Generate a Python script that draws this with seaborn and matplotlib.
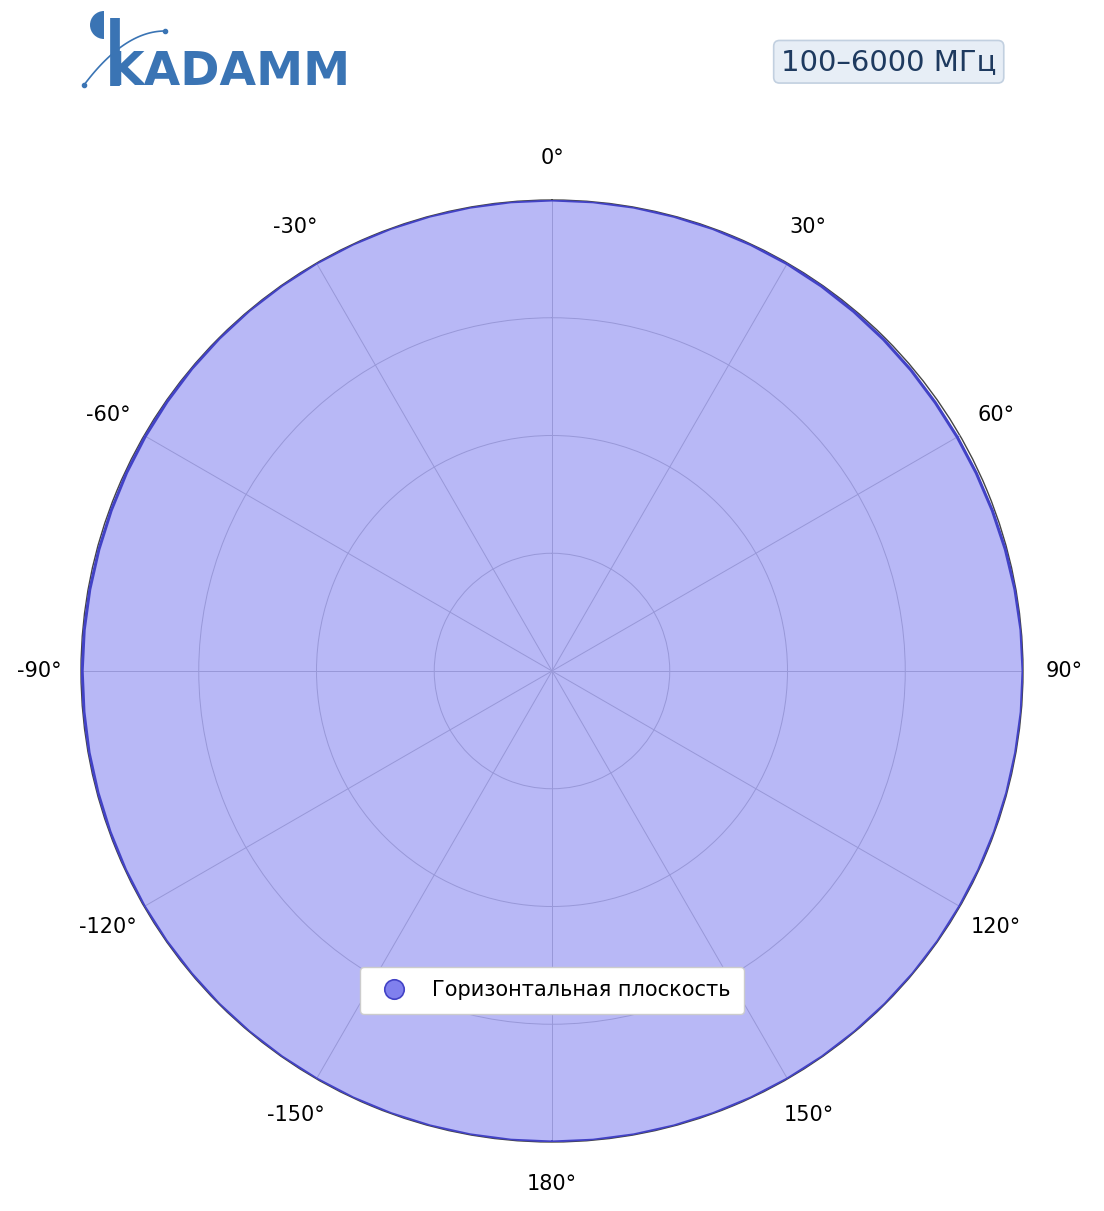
import numpy as np
import matplotlib
matplotlib.use("Agg")
import matplotlib.pyplot as plt
import seaborn as sns
import pandas as pd
from matplotlib.lines import Line2D
from matplotlib.patches import Wedge

# antenna pattern, horizontal plane (dB, normalised), read every 5 degrees
angles_deg = list(range(-180, 185, 5))
gain_db = [
    0.0, 0.0, 0.0, 0.0, 0.0, 0.0, 0.0, 0.0, 0.0, 0.0, -0.01,          # -180 .. -130
    -0.01, -0.01, -0.02, -0.03, -0.04, -0.04, -0.05, -0.05, -0.06,    # -125 .. -85
    -0.07, -0.08, -0.08, -0.07, -0.06, -0.05, -0.03, -0.02, -0.01,    # -80 .. -40
    -0.01, 0.0, 0.0, 0.0, 0.0, 0.0, 0.0,                              # -35 .. -5
    0.0, 0.0, 0.0, -0.01, -0.01, -0.02, -0.03, -0.05, -0.07,          # 0 .. 40
    -0.09, -0.11, -0.13, -0.13, -0.12, -0.10, -0.07, -0.04, -0.01,    # 45 .. 85
    0.0, 0.0, -0.01, -0.01, -0.01, -0.01, -0.01, 0.0, 0.0,            # 90 .. 130
    0.0, 0.0, 0.0, 0.0, 0.0, 0.0, 0.0, 0.0, 0.0, 0.0,                 # 135 .. 180
]
tick_angles = [0, 30, 60, 90, 120, 150, 180, 210, 240, 270, 300, 330]
tick_labels = ["0°", "30°", "60°", "90°", "120°", "150°", "180°",
               "-150°", "-120°", "-90°", "-60°", "-30°"]
series_name = "Горизонтальная плоскость"
band_label = "100–6000 МГц"

df = pd.DataFrame({"theta": np.deg2rad(angles_deg), "gain": gain_db})

sns.set_theme(style="white")
plt.rcParams["font.family"] = ["DejaVu Sans"]
plt.rcParams["text.color"] = "black"
plt.rcParams["xtick.color"] = "black"

fig = plt.figure(figsize=(11.04, 12.11), dpi=100)
ax = fig.add_axes([81 / 1104, 69 / 1211, 942 / 1104, 942 / 1211], projection="polar")
ax.set_theta_zero_location("N")
ax.set_theta_direction(-1)
ax.set_rlim(-20, 0)

fill_col = "#b8b8f6"
line_col = "#4242c6"
ax.fill(df["theta"], df["gain"], color=fill_col, zorder=1, linewidth=0)
sns.lineplot(data=df, x="theta", y="gain", ax=ax, color=line_col, linewidth=2.2,
             sort=False, zorder=3, legend=False)

ax.set_axisbelow(False)
ax.set_rticks([-15, -10, -5])
ax.set_yticklabels([])
ax.set_thetagrids(tick_angles, tick_labels, fontsize=15, color="black")
ax.tick_params(axis="x", pad=17)
ax.grid(True, color="#9898d8", linewidth=0.7)
ax.set_xlabel("")
ax.set_ylabel("")
ax.spines["polar"].set_color("#444444")
ax.spines["polar"].set_linewidth(1.0)

handle = Line2D([], [], marker="o", linestyle="none", markersize=14,
                markerfacecolor="#8080ee", markeredgecolor=line_col, markeredgewidth=1.2)
leg = ax.legend([handle], [series_name], loc="center", bbox_to_anchor=(0.5, 0.161),
                bbox_transform=ax.transAxes, fontsize=15, frameon=True,
                borderpad=0.65, handletextpad=0.8, fancybox=True, framealpha=1)
leg.get_frame().set_edgecolor("#cccccc")
for txt in leg.get_texts():
    txt.set_color("black")

# frequency band badge
fig.text(0.805, 0.949, band_label, fontsize=21, color="#1e3a5f", ha="center", va="center",
         bbox=dict(boxstyle="round,pad=0.25,rounding_size=0.2", facecolor="#e7eef6",
                   edgecolor="#c2d0e0", linewidth=1.2))

# logo
logo = "#3a74b4"
fig.text(108 / 1104, 1 - 85 / 1211, "KADAMM", fontsize=34, fontweight="bold", color=logo,
         ha="left", va="baseline")
lax = fig.add_axes([0, 1 - 100 / 1211, 400 / 1104, 100 / 1211])
lax.set_xlim(0, 400)
lax.set_ylim(100, 0)
lax.axis("off")
lax.add_patch(Wedge((104, 25), 14, 90, 270, facecolor=logo, edgecolor="none"))
lax.plot([115, 115], [18, 86], color=logo, linewidth=7, solid_capstyle="butt")
t = np.linspace(0, 1, 40)
xs = 84 + 81 * t
ys = 85 - 54 * (1 - (1 - t) ** 2)
lax.plot(xs, ys, color=logo, linewidth=1.2)
lax.plot([84, 165], [85, 31], linestyle="none", marker="o", markersize=3, color=logo)

fig.savefig("out.png", dpi=100, facecolor="white")
